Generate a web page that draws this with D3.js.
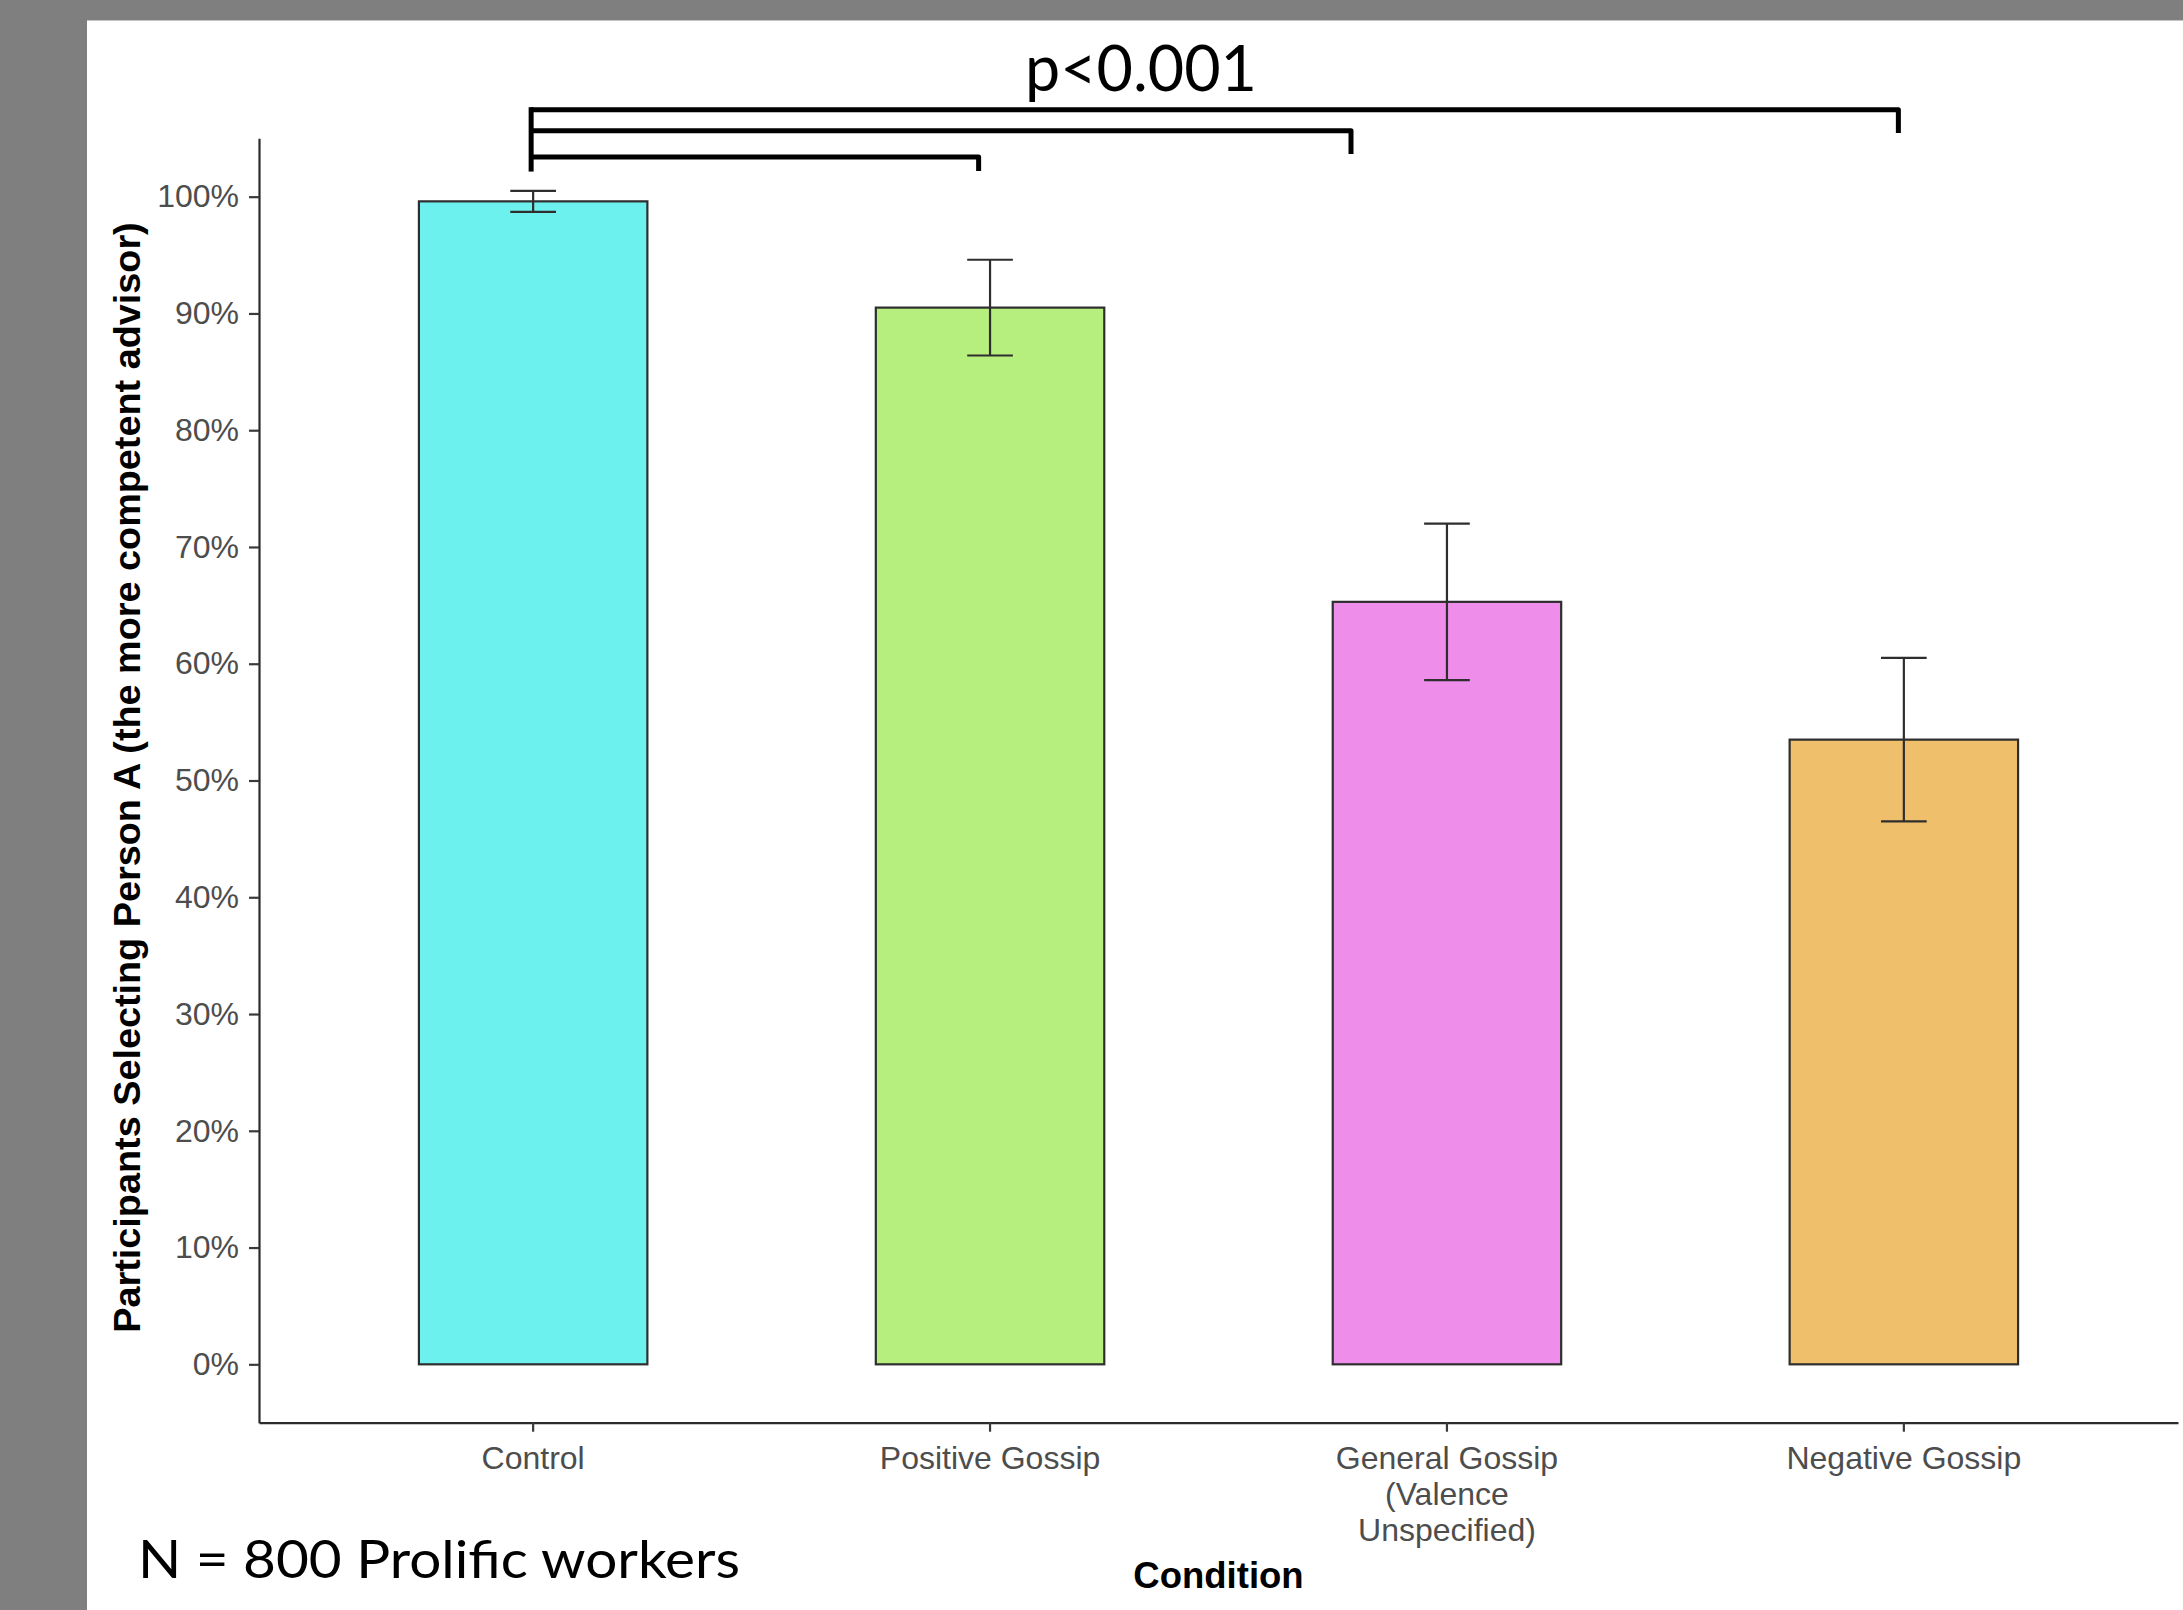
<!DOCTYPE html>
<html>
<head>
<meta charset="utf-8">
<script src="https://cdn.jsdelivr.net/npm/d3@7/dist/d3.min.js"></script>
<style>
  html, body { margin: 0; padding: 0; background: #7f7f7f; }
  svg { display: block; }
</style>
</head>
<body>
<svg id="chart" width="2183" height="1610"></svg>
<script>
// Conditions (each label broken into its printed lines)
const categories = ["Control", "Positive Gossip", "General Gossip", "Negative Gossip"];
const categoryLines = [
  ["Control"],
  ["Positive Gossip"],
  ["General Gossip", "(Valence", "Unspecified)"],
  ["Negative Gossip"]
];
// Share of participants choosing Person A, with error-bar half widths
const means = [0.996, 0.905, 0.653, 0.535];
const errors = [0.009, 0.041, 0.067, 0.070];
const fills = ["#6cf1ef", "#b7ef7f", "#ef8deb", "#f0bf6b"];
const yTicks = [0, 0.1, 0.2, 0.3, 0.4, 0.5, 0.6, 0.7, 0.8, 0.9, 1.0];

// Significance brackets from Control: right end (category position), bar level, drop length
const bracketEnds = [0.975, 1.79, 2.988];
const bracketLevels = [1.034, 1.0565, 1.0745];
const bracketDrops = [0.012, 0.02, 0.02];
const bracketStemBottom = 1.0215;
const pLabel = "p<0.001";
const noteLabel = "N = 800 Prolific workers";
const xTitle = "Condition";
const yTitle = "Participants Selecting Person A (the more competent advisor)";

const svg = d3.select("#chart");

// slide background
svg.append("rect").attr("x", 87).attr("y", 20).attr("width", 2183 - 87).attr("height", 1610 - 20)
  .attr("fill", "#ffffff");
svg.append("line").attr("x1", 87).attr("x2", 2183).attr("y1", 20.5).attr("y2", 20.5)
  .attr("stroke", "#c4c4c4").attr("stroke-width", 1);

const plot = { left: 259, right: 2178, top: 138.3, bottom: 1422.7 };

const x = d3.scaleBand().domain(categories).range([plot.left, plot.right])
  .paddingInner(0.5).paddingOuter(0.35);
const y = d3.scaleLinear().domain([-0.05, 1.05]).range([plot.bottom, plot.top]);
// continuous position along the category axis (0 = first category centre)
const xPos = i => x(categories[0]) + x.bandwidth() / 2 + i * x.step();

const tickFont = "'Liberation Sans', Arial, sans-serif";

// y axis
const yAxis = svg.append("g").attr("transform", `translate(${plot.left},0)`)
  .call(d3.axisLeft(y).tickValues(yTicks).tickFormat(d3.format(".0%"))
    .tickSize(10).tickSizeOuter(0).tickPadding(10));
yAxis.select(".domain").attr("stroke", "#2b2b2b").attr("stroke-width", 2.2);
yAxis.selectAll(".tick line").attr("stroke", "#3a3a3a").attr("stroke-width", 2.2);
yAxis.selectAll(".tick text").attr("font-family", tickFont).attr("font-size", 32)
  .attr("fill", "#4d4d4d");

// x axis
const xAxis = svg.append("g").attr("transform", `translate(0,${plot.bottom})`)
  .call(d3.axisBottom(x).tickSize(9).tickSizeOuter(0).tickPadding(15));
xAxis.select(".domain").attr("stroke", "#2b2b2b").attr("stroke-width", 2.2);
xAxis.selectAll(".tick line").attr("stroke", "#3a3a3a").attr("stroke-width", 2.2);
xAxis.selectAll(".tick text").each(function(d, i) {
  const t = d3.select(this).text(null)
    .attr("font-family", tickFont).attr("font-size", 32).attr("fill", "#4d4d4d");
  categoryLines[i].forEach((line, k) => {
    t.append("tspan").attr("x", 0).attr("dy", k === 0 ? "0.71em" : "1.12em").text(line);
  });
});

// bars
svg.append("g").selectAll("rect").data(means).join("rect")
  .attr("x", (d, i) => x(categories[i]))
  .attr("y", d => y(d))
  .attr("width", x.bandwidth())
  .attr("height", d => y(0) - y(d))
  .attr("fill", (d, i) => fills[i])
  .attr("stroke", "#2e2e2e").attr("stroke-width", 2.2);

// error bars
const capHalf = x.step() * 0.05;
const eb = svg.append("g").attr("stroke", "#2e2e2e").attr("stroke-width", 2.2).attr("fill", "none");
means.forEach((m, i) => {
  const cx = x(categories[i]) + x.bandwidth() / 2;
  eb.append("line").attr("x1", cx).attr("x2", cx).attr("y1", y(m + errors[i])).attr("y2", y(m - errors[i]));
  eb.append("line").attr("x1", cx - capHalf).attr("x2", cx + capHalf)
    .attr("y1", y(m + errors[i])).attr("y2", y(m + errors[i]));
  eb.append("line").attr("x1", cx - capHalf).attr("x2", cx + capHalf)
    .attr("y1", y(m - errors[i])).attr("y2", y(m - errors[i]));
});

// significance brackets
const br = svg.append("g").attr("stroke", "#000").attr("stroke-width", 5).attr("fill", "none")
  .attr("stroke-linejoin", "round").attr("stroke-linecap", "butt");
const stemX = xPos(0) - 2;
br.append("line").attr("x1", stemX).attr("x2", stemX)
  .attr("y1", y(d3.max(bracketLevels)) - 2.5).attr("y2", y(bracketStemBottom));
bracketEnds.forEach((e, i) => {
  const path = d3.path();
  path.moveTo(stemX, y(bracketLevels[i]));
  path.lineTo(xPos(e), y(bracketLevels[i]));
  path.lineTo(xPos(e), y(bracketLevels[i] - bracketDrops[i]));
  br.append("path").attr("d", path.toString());
});

// annotation text
const noteFont = "Lato, 'Open Sans', sans-serif";
svg.append("text").attr("x", 1025).attr("y", 91)
  .attr("font-family", noteFont).attr("font-size", 64).attr("fill", "#000")
  .attr("textLength", 232).attr("lengthAdjust", "spacingAndGlyphs")
  .text(pLabel);
svg.append("text").attr("x", 138).attr("y", 1578)
  .attr("font-family", noteFont).attr("font-size", 53).attr("fill", "#000")
  .attr("textLength", 602).attr("lengthAdjust", "spacingAndGlyphs")
  .text(noteLabel);

// axis titles
svg.append("text")
  .attr("x", (plot.left + plot.right) / 2).attr("y", 1588)
  .attr("text-anchor", "middle")
  .attr("font-family", tickFont).attr("font-weight", "bold").attr("font-size", 36.5)
  .attr("fill", "#000").text(xTitle);
svg.append("text")
  .attr("transform", `translate(140,${(plot.top + plot.bottom) / 2 - 3}) rotate(-90)`)
  .attr("text-anchor", "middle")
  .attr("font-family", tickFont).attr("font-weight", "bold").attr("font-size", 37.8)
  .attr("fill", "#000").text(yTitle);
</script>
</body>
</html>
